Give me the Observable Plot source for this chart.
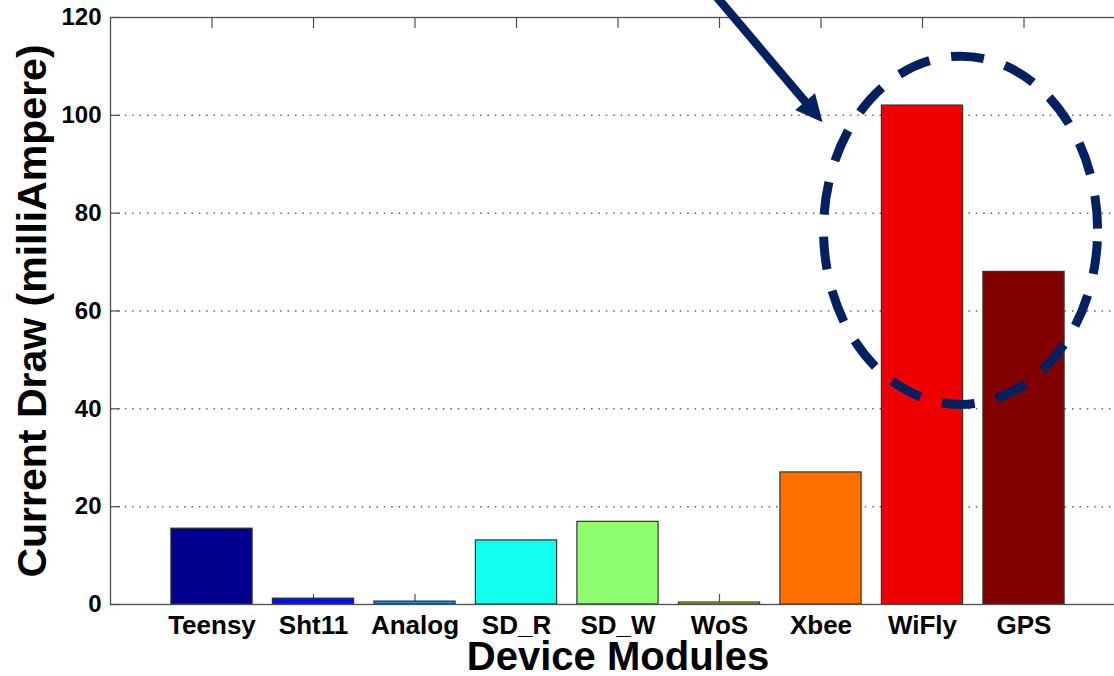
<!DOCTYPE html>
<html><head><meta charset="utf-8">
<script src="https://cdn.jsdelivr.net/npm/d3@7"></script>
<script src="https://cdn.jsdelivr.net/npm/@observablehq/plot@0.6"></script>
<style>
html,body{margin:0;padding:0;overflow:hidden;background:#fff;}
#chart{width:1140px;}
#chart svg{display:block;max-width:none !important;}
</style></head><body><div id="chart"></div>
<script>
// ---- data ----
const modules = ["Teensy", "Sht11", "Analog", "SD_R", "SD_W", "WoS", "Xbee", "WiFly", "GPS"];
const currentDraw = [15.5, 1.2, 0.6, 13.1, 16.9, 0.4, 27, 102, 68];
const barColors = ["#00008F", "#0010FF", "#108FEF", "#10FFEF", "#8FFF70", "#EFEF10", "#FF7000", "#EF0000", "#800000"];
const yTicks = [0, 20, 40, 60, 80, 100, 120];
const gridTicks = [20, 40, 60, 80, 100];
const xLabel = "Device Modules";
const yLabel = "Current Draw (milliAmpere)";
// annotation (in category-index units, 1 = first category, and y data units)
const ellipseCenter = [8.38, 76.4];
const ellipseRadii = [1.35, 35.6];
const arrowFrom = [5.9, 126];
const arrowTo = [7.02, 98.5];

const data = modules.map((m, i) => ({module: m, value: currentDraw[i], color: barColors[i]}));
const font = "'Liberation Sans', Arial, Helvetica, sans-serif";
const axisColor = "#4d4d4d";

const plot = Plot.plot({
  width: 1140, height: 676,
  marginLeft: 110, marginRight: 15, marginTop: 17, marginBottom: 72,
  style: {fontFamily: font, fontWeight: "bold", background: "#fff", color: "#000", maxWidth: "none"},
  x: {domain: modules, paddingInner: 0.2, paddingOuter: 0.6, round: false, label: null},
  y: {domain: [0, 120], label: null},
  color: {type: "identity"},
  marks: [
    Plot.gridY(gridTicks, {stroke: "#666", strokeOpacity: 1, strokeWidth: 1.5, strokeDasharray: "1.5,5.9"}),
    Plot.axisX({anchor: "bottom", tickSize: 10, dy: -10, tickFormat: () => "", stroke: axisColor, strokeWidth: 1.2, label: null}),
    Plot.axisX({anchor: "top", tickSize: 10, dy: 10, tickFormat: () => "", stroke: axisColor, strokeWidth: 1.2, label: null}),
    Plot.axisY({anchor: "left", ticks: yTicks, tickSize: 10, dx: 10, tickFormat: () => "", stroke: axisColor, strokeWidth: 1.2, label: null}),
    Plot.barY(data, {x: "module", y: "value", fill: "color", stroke: "#333", strokeWidth: 1.2}),
    Plot.axisX({anchor: "bottom", tickSize: 0, tickPadding: 11, fontSize: 26, fontWeight: "bold", fill: "#000", label: null}),
    Plot.axisY({anchor: "left", ticks: yTicks, tickSize: 0, tickPadding: 9, fontSize: 24, fontWeight: "bold", fill: "#000", label: null}),
    Plot.frame({stroke: axisColor, strokeWidth: 1.3}),
    Plot.text([yLabel], {text: d => d, frameAnchor: "left", dx: -65, dy: 0, rotate: -90, lineAnchor: "bottom", textAnchor: "middle", fontSize: 41, fontWeight: "bold", fill: "#000"}),
    Plot.text([xLabel], {text: d => d, frameAnchor: "bottom", dy: 65, lineAnchor: "bottom", textAnchor: "middle", fontSize: 40, fontWeight: "bold", fill: "#000"})
  ]
});
plot.style.maxWidth = "none";
plot.style.height = "676px";
plot.style.width = "1140px";
document.getElementById("chart").appendChild(plot);

// ---- annotation drawn from the plot's scales ----
const xs = plot.scale("x"), ys = plot.scale("y");
const step = xs.step, bw = xs.bandwidth;
const c0 = xs.apply(modules[0]) + bw / 2;
const px = v => c0 + (v - 1) * step;
const py = v => ys.apply(v);
const navy = "#032060";
const svg = d3.select(plot);
const g = svg.append("g");

const ecx = px(ellipseCenter[0]), ecy = py(ellipseCenter[1]);
const erx = ellipseRadii[0] * step, ery = py(ellipseCenter[1] - ellipseRadii[1]) - ecy;
g.append("ellipse").attr("cx", ecx).attr("cy", ecy).attr("rx", erx).attr("ry", ery)
  .attr("fill", "none").attr("stroke", navy).attr("stroke-width", 9)
  .attr("stroke-dasharray", "33,22").attr("stroke-dashoffset", 44);

const x1 = px(arrowFrom[0]), y1 = py(arrowFrom[1]);
const x2 = px(arrowTo[0]), y2 = py(arrowTo[1]);
const dxA = x2 - x1, dyA = y2 - y1, L = Math.hypot(dxA, dyA);
const ux = dxA / L, uy = dyA / L;
const headLen = 27, headHalf = 13;
const bx = x2 - ux * headLen, by = y2 - uy * headLen;
g.append("line").attr("x1", x1).attr("y1", y1).attr("x2", bx + ux * 2).attr("y2", by + uy * 2)
  .attr("stroke", navy).attr("stroke-width", 8.5);
g.append("path")
  .attr("d", `M${x2},${y2}L${bx - uy * headHalf},${by + ux * headHalf}L${bx + uy * headHalf},${by - ux * headHalf}Z`)
  .attr("fill", navy);
</script>
</body></html>
